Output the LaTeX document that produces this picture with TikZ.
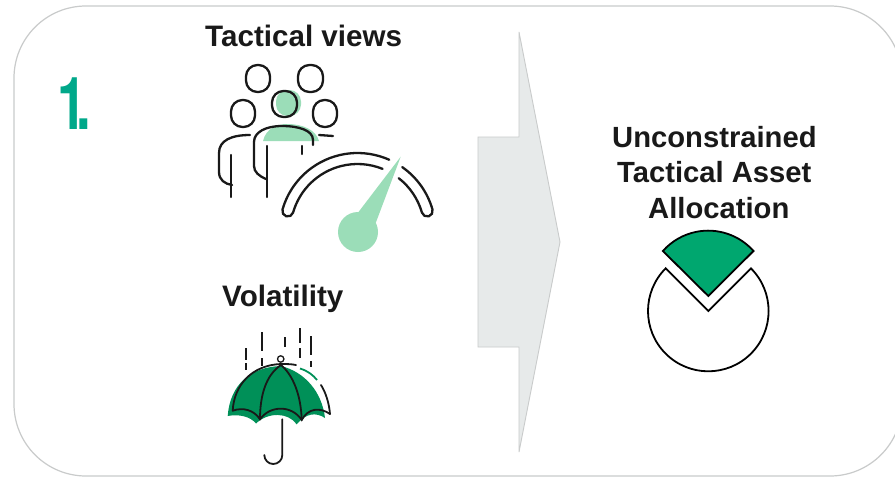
\documentclass[tikz,border=0pt]{standalone}
\usepackage{fontspec}
\setmainfont{Liberation Sans}
\newfontfamily\numfont{TeX Gyre Heros}
\definecolor{framegrey}{HTML}{C9CBCB}
\definecolor{arrowfill}{HTML}{E7EAEA}
\definecolor{numgreen}{HTML}{00A88A}
\definecolor{wedgegreen}{HTML}{00A76F}
\definecolor{darkgreen}{HTML}{009058}
\definecolor{palegreen}{HTML}{9BDDB8}
\tikzset{
  heading/.style={font=\fontsize{29.2}{29}\selectfont\bfseries, text=black!90, anchor=base west, inner sep=0pt},
  wideheading/.style={heading, font=\fontsize{29.6}{29}\selectfont\bfseries},
  iconline/.style={black!90, line width=2.3pt, line cap=round},
  thinline/.style={black!90, line width=1.8pt, line cap=round},
  head/.style={iconline, rounded corners=11.5pt},
  rain/.style={black!90, line width=1.7pt}
}
\begin{document}
\begin{tikzpicture}[x=1pt,y=-1pt]
    \useasboundingbox (0,0) rectangle (895,477);
    \fill[white] (0,0) rectangle (895,477);

    % Outer frame, runs off the right side
    \draw[framegrey, line width=1.2pt, rounded corners=72pt] (14,6) rectangle (902,476);

    % Number and headings
    \node[font=\numfont\fontsize{73}{73}\selectfont\bfseries, text=numgreen, anchor=base west, inner sep=0pt, xscale=0.72] (number) at (57.5,129) {1\kern-14pt{}.};
    \node[wideheading] (tactical) at (205,46) {Tactical views};
    \node[wideheading] (volatility) at (222,306) {Volatility};
    \node[heading] (titleone) at (612,147) {Unconstrained};
    \node[heading] (titletwo) at (617,182) {Tactical Asset};
    \node[heading] (titlethree) at (648,218) {Allocation};

    % Big arrow in the middle
    \draw[framegrey, fill=arrowfill, line width=0.9pt] (519,32) -- (560,242) -- (519,452) -- (519,347) -- (478,347) -- (478,137) -- (519,137) -- cycle;

    % Crowd: pale fills first
    \fill[palegreen, rounded corners=11.5pt] (276,90) rectangle (301,116);
    \fill[palegreen] (263,141) .. controls (266,128) and (278,124) .. (287,124) .. controls (303,124) and (316,130) .. (319,141) -- cycle;

    % Crowd: heads
    \draw[head] (246,65) rectangle (270,92);
    \draw[head] (298,65) rectangle (323,92);
    \draw[head] (231,100) rectangle (255,127);
    \draw[head] (313,100) rectangle (337,127);
    \draw[head] (272,91) rectangle (297,117);

    % Crowd: bodies
    \draw[iconline] (250,135) .. controls (232,135) and (219,140) .. (219,153) -- (219,172) .. controls (219,180) and (225,184) .. (232,185);
    \draw[iconline] (231,155) -- (231,197);
    \draw[iconline] (266,179) .. controls (259,176) and (254,172) .. (254,166) -- (254,142) .. controls (254,132) and (266,126) .. (282,126) .. controls (298,126) and (313,130) .. (313,140) -- (313,145);
    \draw[iconline] (267,146) -- (267,197);
    \draw[iconline] (302,146) -- (302,154);
    \draw[iconline] (319,135) -- (333,136);

    % Gauge
    \coordinate (gaugecentre) at (357.5,231);
    \draw[iconline] (gaugecentre) ++(-66:78) arc[start angle=-66, end angle=-164, radius=78] arc[start angle=-164, delta angle=-180, radius=5.5] arc[start angle=-164, end angle=-68, radius=67];
    \draw[iconline] (gaugecentre) ++(-55:78) arc[start angle=-55, end angle=-16, radius=78] arc[start angle=-16, delta angle=180, radius=5.5] arc[start angle=-16, end angle=-52, radius=67];
    \fill[palegreen] (358,232) circle (20);
    \fill[palegreen] (400.7,156.7) -- (375.7,223) -- (358.3,212.3) -- cycle;

    % Umbrella rain
    \draw[rain] (246,348) -- (246,360) (246,363) -- (246,370);
    \draw[rain] (261.7,332) -- (261.7,351) (261.7,358) -- (261.7,366);
    \draw[rain] (285.3,337) -- (285.3,347);
    \draw[rain] (300,328) -- (300,343) (300,348) -- (300,358);
    \draw[rain] (310.7,336) -- (310.7,355) (310.7,361) -- (310.7,367);

    % Umbrella canopy
    \fill[darkgreen] (227.7,416) .. controls (230,385) and (250,367) .. (281,366) .. controls (305,372) and (322,392) .. (325,418) .. controls (316,412) and (306,413) .. (296.7,424.3) .. controls (288,412) and (268,412) .. (256,423.5) .. controls (250,416) and (238,414) .. (227.7,416) -- cycle;
    \draw[thinline] (232.7,410.7) .. controls (234,385) and (252,365) .. (281,364) .. controls (285,364) and (292,364) .. (296,365);
    \draw[darkgreen, line width=1.8pt] (300,368.5) .. controls (308,371) and (313,375) .. (317,380);
    \draw[thinline] (321,385) .. controls (326,393) and (329,403) .. (330,414);
    \draw[thinline] (232.7,410.7) .. controls (243,407) and (254,410) .. (260,419.3) .. controls (270,405) and (292,405) .. (301.7,420) .. controls (308,408) and (320,407) .. (330,414);
    \draw[thinline] (281,365) .. controls (266,375) and (260,395) .. (260,419.3);
    \draw[thinline] (281,365) .. controls (293,375) and (301,395) .. (301.7,420);
    \draw[thinline] (282.3,419.3) -- (282.3,455) arc[start angle=0, end angle=180, radius=9];
    \draw[black!90, line width=1.3pt, fill=white] (280.7,359) circle (3.2);

    % Pie with the cut out slice
    \coordinate (piecentre) at (708.3,311);
    \draw[black, line width=1.8pt, line join=miter, fill=white] (piecentre) -- ++(-45:60.3) arc[start angle=-45, end angle=225, radius=60.3] -- cycle;
    \draw[black, line width=1.8pt, fill=wedgegreen] (708.3,296) -- (753.5,251) arc[start angle=-41.6, end angle=-138.4, radius=60.6] -- cycle;
\end{tikzpicture}
\end{document}
